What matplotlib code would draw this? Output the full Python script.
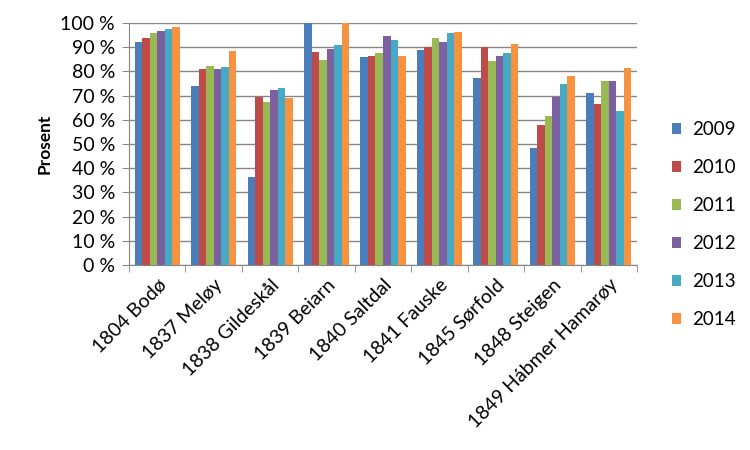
import numpy as np
import matplotlib
matplotlib.use('Agg')
import matplotlib.pyplot as plt

plt.rcParams['font.family'] = ['Lato', 'DejaVu Sans']

kommuner = ['1804 Bodø', '1837 Meløy', '1838 Gildeskål', '1839 Beiarn',
            '1840 Saltdal', '1841 Fauske', '1845 Sørfold', '1848 Steigen',
            '1849 Hábmer Hamarøy']
aar = ['2009', '2010', '2011', '2012', '2013', '2014']

v2009 = [92.1, 74.0, 36.4, 100.0, 86.1, 89.0, 77.4, 48.4, 71.2]
v2010 = [93.9, 81.1, 69.5, 88.0, 86.5, 90.2, 90.2, 57.9, 66.6]
v2011 = [96.0, 82.3, 67.4, 84.8, 87.7, 93.9, 84.4, 61.7, 76.1]
v2012 = [96.8, 81.1, 72.4, 89.4, 94.8, 92.3, 86.5, 69.5, 76.1]
v2013 = [97.7, 81.9, 73.2, 91.0, 93.1, 96.0, 87.7, 74.9, 63.7]
v2014 = [98.5, 88.6, 69.1, 100.0, 86.5, 96.4, 91.4, 78.2, 81.5]
serier = [v2009, v2010, v2011, v2012, v2013, v2014]

farger = ['#4A7EBB', '#BE4B48', '#98B954', '#7D60A0', '#46AAC5', '#F69240']

fig = plt.figure(figsize=(7.5, 4.5), dpi=100)
ax = fig.add_axes([129/750, 1 - 265/450, (637-129)/750, (265-23)/450])

x = np.arange(len(kommuner))
bw = 0.8 / 6
for i, (s, c) in enumerate(zip(serier, farger)):
    ax.bar(x - 0.4 + bw * (i + 0.5), s, width=bw, color=c, label=aar[i], zorder=3)

ax.set_xlim(-0.5, len(kommuner) - 0.5)
ax.set_ylim(0, 100)
ax.set_yticks(np.arange(0, 101, 10))
ax.set_yticklabels(['%d %%' % v for v in range(0, 101, 10)], fontsize=14)
ax.yaxis.grid(True, color='#868686', linewidth=1, zorder=0)

ax.set_xticks(x)
ax.set_xticklabels(kommuner, rotation=45, ha='right', rotation_mode='anchor', fontsize=14)
ax.tick_params(axis='x', length=0, pad=8)
ax.set_xticks(np.arange(-0.5, len(kommuner)), minor=True)
ax.tick_params(axis='x', which='minor', length=5, color='#868686')
ax.tick_params(axis='y', length=5, color='#868686', pad=5)

for sp in ['top', 'right']:
    ax.spines[sp].set_visible(False)
for sp in ['left', 'bottom']:
    ax.spines[sp].set_color('#868686')

ax.set_ylabel('Prosent', fontsize=12.5, fontweight='bold', labelpad=6)

ax.legend(loc='center left', bbox_to_anchor=(1.035, 0.168), frameon=False,
          fontsize=13.5, handlelength=0.5, handleheight=0.5, labelspacing=1.12,
          handletextpad=0.6)

fig.savefig('out.png', dpi=100)
